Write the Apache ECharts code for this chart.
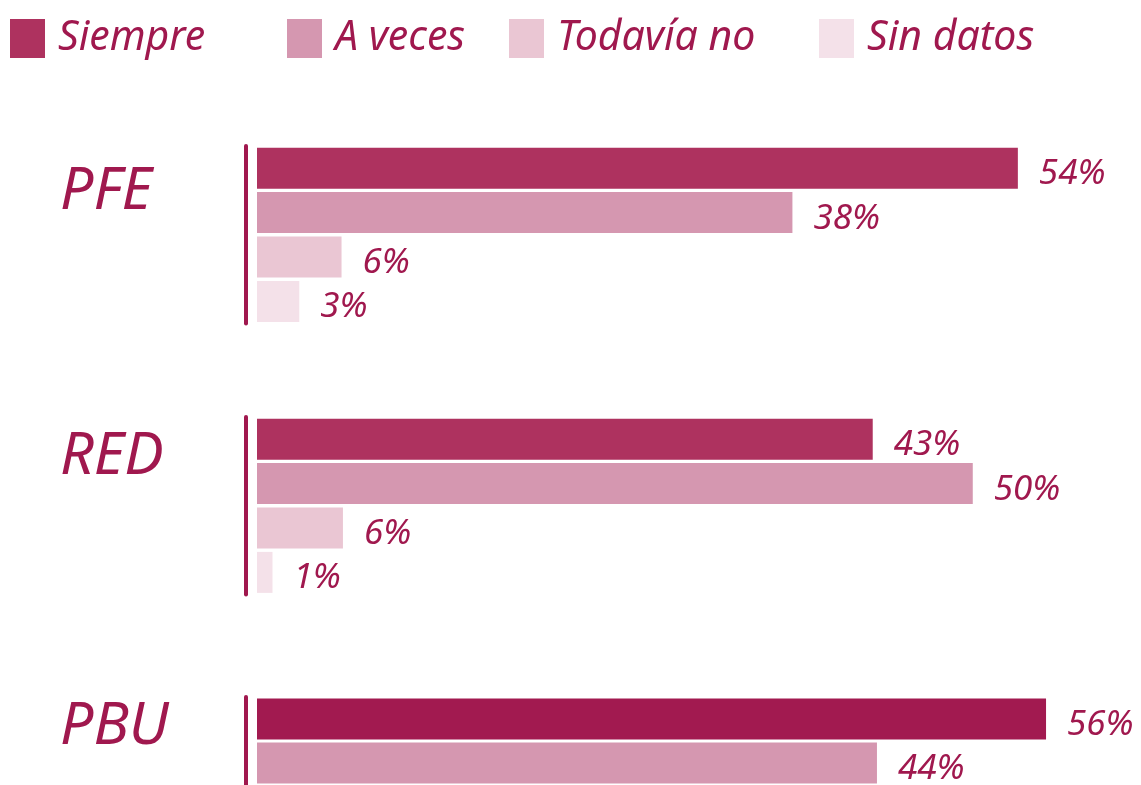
<!DOCTYPE html>
<html>
<head>
<meta charset="utf-8">
<script src="https://cdn.jsdelivr.net/npm/echarts@6/dist/echarts.min.js"></script>
<style>
html,body{margin:0;padding:0;background:#fff;}
#chart{width:1141px;height:785px;}
</style>
</head>
<body>
<div id="chart"></div>
<script>
//respuestas (categorias)
var cats = ['Siempre', 'A veces', 'Todavía no', 'Sin datos'];
//grupos
var groups = ['PFE', 'RED', 'PBU'];
//valores
var pfeVals = [54, 38, 6, 3];
var redVals = [43.7, 50.8, 6.1, 1.1];
var pbuVals = [56, 44];
//textos de las etiquetas
var pfeLabels = ['54%', '38%', '6%', '3%'];
var redLabels = ['43%', '50%', '6%', '1%'];
var pbuLabels = ['56%', '44%'];

var colors = ['#ae325f', '#d597b0', '#eac6d3', '#f4e1e9'];
var pbuFirst = '#a21a50';
var textColor = '#a0184e';
var font = 'Noto Sans';

var groupVals = [pfeVals, redVals, pbuVals];
var groupLabels = [pfeLabels, redLabels, pbuLabels];
//posicion de cada bloque
var gridTops = [146, 417, 697];
var rowH = 44.4;

var grids = [], xAxes = [], yAxes = [], series = [], titles = [];
var titleTops = [163, 428, 698];

for (var g = 0; g < groups.length; g++) {
	var vals = groupVals[g];
	var n = vals.length;
	grids.push({
		left: 257,
		top: gridTops[g],
		width: 845.4,
		height: rowH * n
	});
	xAxes.push({
		type: 'value',
		gridIndex: g,
		min: 0,
		max: 60,
		show: false
	});
	yAxes.push({
		type: 'category',
		gridIndex: g,
		data: cats.slice(0, n),
		inverse: true,
		offset: 11,
		axisLine: {
			show: true,
			onZero: false,
			lineStyle: { color: textColor, width: 4 }
		},
		axisTick: { show: false },
		axisLabel: { show: false },
		splitLine: { show: false }
	});
	titles.push({
		text: groups[g],
		left: 60,
		top: titleTops[g],
		padding: 0,
		textStyle: {
			fontFamily: font,
			fontStyle: 'italic',
			fontWeight: 'normal',
			fontSize: 59,
			color: textColor
		}
	});
	for (var k = 0; k < n; k++) {
		var data = [];
		for (var j = 0; j < n; j++) {
			data.push(j === k ? vals[j] : '-');
		}
		var col = colors[k];
		if (g === 2 && k === 0) col = pbuFirst;
		(function (labs) {
			series.push({
				name: cats[k],
				type: 'bar',
				xAxisIndex: g,
				yAxisIndex: g,
				stack: 'g' + g,
				data: data,
				barWidth: 41,
				itemStyle: { color: col },
				label: {
					show: true,
					position: 'right',
					distance: 21,
					offset: [0, 6],
					fontFamily: font,
					fontStyle: 'italic',
					fontSize: 35,
					color: textColor,
					formatter: function (p) {
						return labs[p.dataIndex];
					}
				}
			});
		})(groupLabels[g]);
	}
}

//una leyenda por item para respetar las posiciones
var legendLefts = [10, 287, 509, 819];
var legends = [];
for (var i = 0; i < cats.length; i++) {
	legends.push({
		data: [cats[i]],
		left: legendLefts[i],
		top: 18,
		padding: 0,
		icon: 'rect',
		itemWidth: 35,
		itemHeight: 39,
		itemGap: 0,
		selectedMode: false,
		textStyle: {
			fontFamily: font,
			fontStyle: 'italic',
			fontSize: 41,
			color: textColor,
			padding: [4, 0, 0, 8]
		}
	});
}

var option = {
	animation: false,
	title: titles,
	legend: legends,
	grid: grids,
	xAxis: xAxes,
	yAxis: yAxes,
	series: series
};
var chart = echarts.init(document.getElementById('chart'));
chart.setOption(option);
</script>
</body>
</html>
